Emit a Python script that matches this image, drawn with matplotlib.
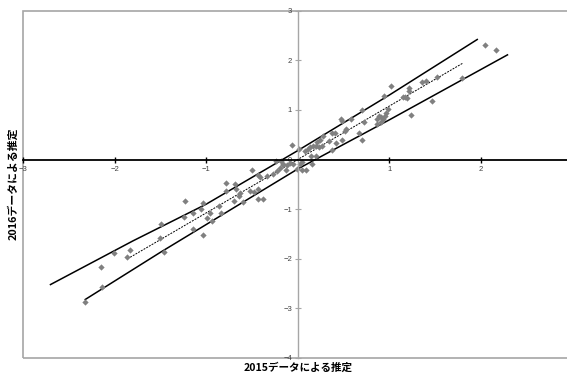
import matplotlib.pyplot as plt
from matplotlib.patches import Rectangle

plt.rcParams['font.family'] = ['Liberation Sans', 'DejaVu Sans']

# scatter points (2015 estimate, 2016 estimate)
x_2015 = [-2.32, -2.15, -2.14, -2.01, -1.86, -1.83, -1.49, -1.50, -1.46, -1.23,
          -1.24, -1.14, -1.14, -1.06, -1.03, -1.03, -0.99, -0.96, -0.94, -0.86,
          -0.84, -0.78, -0.78, -0.70, -0.69, -0.67, -0.64, -0.63, -0.60, -0.52,
          -0.48, -0.43, -0.43, -0.38, -0.50, -0.43, -0.41, -0.34, -0.27, -0.23,
          -0.19, -0.16, -0.24, -0.18, -0.16, -0.12, -0.13, -0.09, -0.05, -0.06,
          -0.01, 0.02, 0.05, 0.05, 0.09, 0.16, 0.01, 0.08, 0.14, 0.20,
          0.11, 0.13, 0.17, 0.20, 0.23, 0.26, 0.21, 0.24, 0.28, 0.34,
          0.37, 0.42, 0.48, 0.37, 0.41, 0.47, 0.48, 0.52, 0.53, 0.58,
          0.67, 0.70, 0.70, 0.72, 0.86, 0.91, 0.87, 0.89, 0.91, 0.93,
          0.95, 0.96, 0.99, 0.94, 1.02, 1.15, 1.17, 1.19, 1.21, 1.22,
          1.24, 1.36, 1.40, 1.47, 1.52, 1.79, 2.05, 2.17]
y_2016 = [-2.88, -2.16, -2.56, -1.89, -1.96, -1.82, -1.30, -1.58, -1.86, -0.83,
          -1.15, -1.08, -1.40, -0.99, -0.88, -1.52, -1.18, -1.08, -1.24, -0.93,
          -1.07, -0.48, -0.63, -0.83, -0.49, -0.60, -0.74, -0.68, -0.86, -0.63,
          -0.65, -0.60, -0.79, -0.80, -0.21, -0.32, -0.36, -0.34, -0.29, -0.24,
          -0.17, -0.10, -0.02, -0.02, -0.09, -0.12, -0.21, -0.07, -0.09, 0.30,
          -0.19, -0.09, -0.05, -0.22, -0.22, -0.09, 0.22, 0.18, 0.08, 0.07,
          0.22, 0.25, 0.28, 0.27, 0.25, 0.27, 0.36, 0.40, 0.48, 0.38,
          0.20, 0.33, 0.40, 0.54, 0.54, 0.81, 0.77, 0.58, 0.62, 0.81,
          0.54, 0.40, 0.99, 0.75, 0.72, 0.75, 0.82, 0.88, 0.86, 0.82,
          0.88, 0.93, 1.01, 1.28, 1.48, 1.26, 1.27, 1.24, 1.38, 1.44,
          0.89, 1.57, 1.58, 1.18, 1.66, 1.65, 2.30, 2.21]

# regression line and the two band lines
fit_x = [-1.83, 1.80]
fit_y = [-1.97, 1.94]
upper_x = [-2.70, -1.80, -1.00, 0.00, 1.00, 1.96]
upper_y = [-2.52, -1.64, -0.90, 0.18, 1.30, 2.42]
lower_x = [-2.32, -1.50, 0.00, 1.00, 2.29]
lower_y = [-2.82, -1.87, -0.19, 0.80, 2.11]

x_ticks = [-3, -2, -1, 1, 2]
y_ticks = [-4, -3, -2, -1, 0, 1, 2, 3]

fig = plt.figure(figsize=(5.67, 3.73), dpi=100)
ax = fig.add_axes([23 / 567, 15 / 373, 549.5 / 567, 347.3 / 373])

ax.plot(upper_x, upper_y, color='black', lw=1.1)
ax.plot(lower_x, lower_y, color='black', lw=1.1)
ax.plot(fit_x, fit_y, color='black', lw=0.7, dashes=(2, 1.2))
ax.plot(x_2015, y_2016, 'D', color='#808080', markersize=3.2, markeredgewidth=0)

ax.set_xlim(-3, 3)
ax.set_ylim(-4, 3)

# axes through the origin, outer frame drawn separately
ax.spines['left'].set_position(('data', 0))
ax.spines['bottom'].set_position(('data', 0))
ax.spines['top'].set_visible(False)
ax.spines['right'].set_visible(False)
ax.spines['bottom'].set_color('black')
ax.spines['bottom'].set_linewidth(1.3)
ax.spines['left'].set_color('#a6a6a6')
ax.spines['left'].set_linewidth(1)
ax.add_patch(Rectangle((0, 0), 1, 1, transform=ax.transAxes, fill=False,
                       edgecolor='#a6a6a6', lw=1.2, clip_on=False))

ax.set_xticks(x_ticks)
ax.set_yticks(y_ticks)
ax.tick_params(axis='x', direction='inout', length=5, width=1, color='black',
               labelsize=5.5, labelcolor='#404040', pad=2)
ax.tick_params(axis='y', direction='inout', length=4, width=0.8, color='#a6a6a6',
               labelsize=5.5, labelcolor='#404040', pad=2)

jp = ['Noto Sans CJK JP', 'DejaVu Sans']
fig.text(298 / 567, 1 - 367.3 / 373, '2015データによる推定', ha='center', va='center',
         fontsize=7.6, fontweight='bold', family=jp)
fig.text(13 / 567, 1 - 184 / 373, '2016データによる推定', ha='center', va='center',
         rotation=90, fontsize=7.8, fontweight='bold', family=jp)

fig.savefig('out.png', dpi=100)
